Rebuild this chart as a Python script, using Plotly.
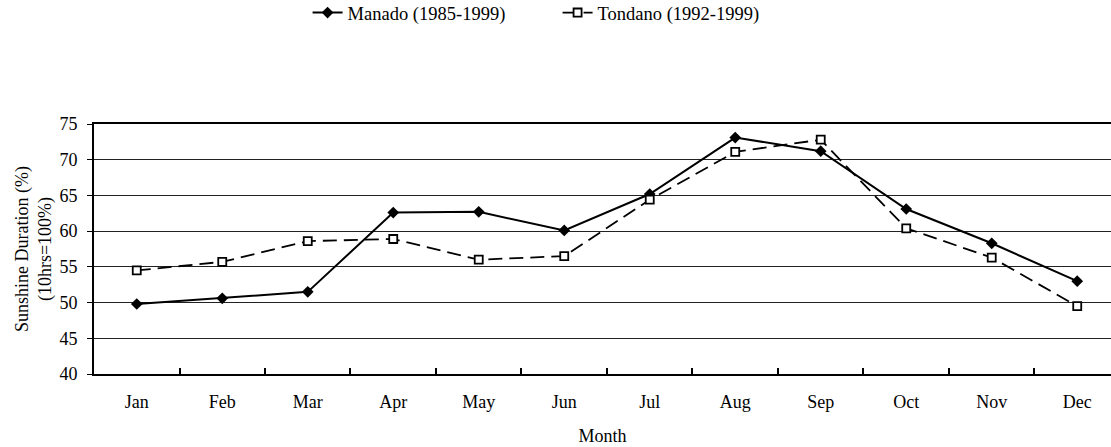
import plotly.graph_objects as go

months = ["Jan", "Feb", "Mar", "Apr", "May", "Jun", "Jul", "Aug", "Sep", "Oct", "Nov", "Dec"]
manado = [49.8, 50.6, 51.5, 62.6, 62.7, 60.1, 65.2, 73.1, 71.2, 63.1, 58.3, 53.0]
tondano = [54.5, 55.7, 58.6, 58.9, 56.0, 56.5, 64.4, 71.1, 72.8, 60.4, 56.3, 49.5]

fig = go.Figure()
fig.add_trace(go.Scatter(
    x=months, y=manado, name="Manado (1985-1999)", mode="lines+markers",
    line=dict(color="black", width=2),
    marker=dict(symbol="diamond", size=9, color="black"),
))
fig.add_trace(go.Scatter(
    x=months, y=tondano, name="Tondano (1992-1999)", mode="lines+markers",
    line=dict(color="black", width=1.8, dash="14px,7px"),
    marker=dict(symbol="square", size=8, color="white", line=dict(color="black", width=1.8)),
))

fig.update_layout(
    width=1111, height=447,
    margin=dict(l=94, r=0, t=124, b=73, autoexpand=False),
    paper_bgcolor="white", plot_bgcolor="white",
    font=dict(family="Liberation Serif", size=18, color="black"),
    showlegend=True,
    legend=dict(orientation="h", x=0.21, xanchor="left",
                y=1.444, yanchor="middle", entrywidth=205, font=dict(size=18.5)),
)
fig.update_xaxes(
    type="category", range=[-0.5, 11.395], automargin=False,
    showline=True, linecolor="black", linewidth=2, mirror=True,
    ticks="inside", tickson="boundaries", ticklen=6, tickcolor="black", tickwidth=2,
    showgrid=False, tickfont=dict(size=18), ticklabelstandoff=10,
    title=dict(text="Month", standoff=19, font=dict(size=18)),
)
fig.update_yaxes(
    range=[40, 75], dtick=5, automargin=False,
    showline=True, linecolor="black", linewidth=2, mirror=True,
    ticks="outside", ticklen=5, tickcolor="black", tickwidth=1,
    showgrid=True, gridcolor="#222222", gridwidth=1, tickfont=dict(size=18),
    ticklabelstandoff=6,
    title=dict(text="Sunshine Duration (%)<br>(10hrs=100%)", standoff=3, font=dict(size=18)),
)

fig.write_html("out.html", config={"displayModeBar": False},
               post_script="document.body.style.margin='0';")
